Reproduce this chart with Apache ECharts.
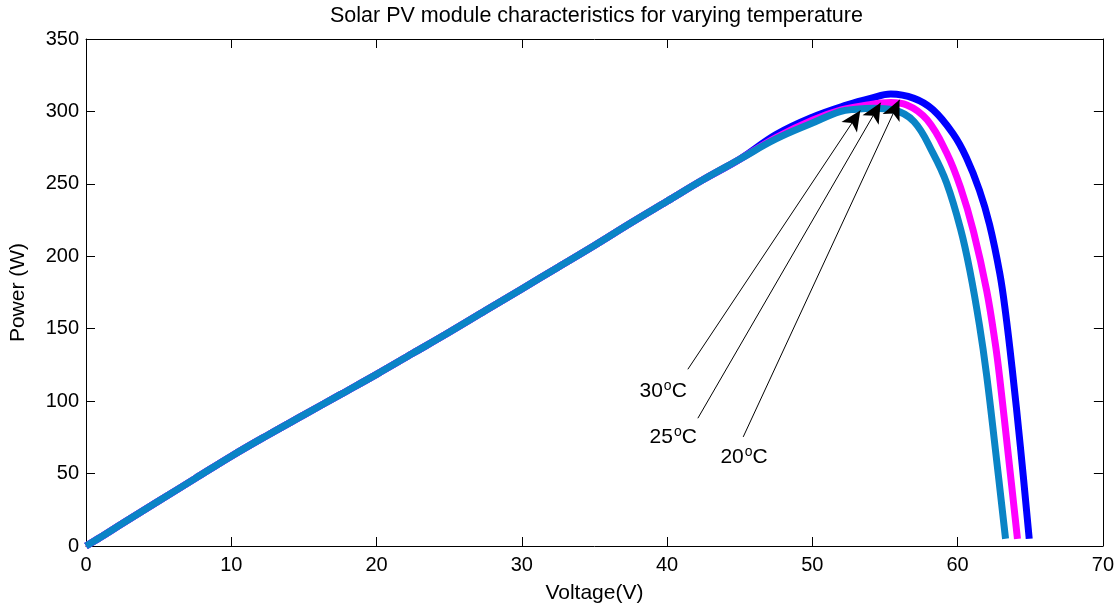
<!DOCTYPE html>
<html>
<head>
<meta charset="utf-8">
<script src="https://cdn.jsdelivr.net/npm/echarts@6/dist/echarts.min.js"></script>
<style>
html,body{margin:0;padding:0;background:#fff;}
#chart{width:1117px;height:609px;}
</style>
</head>
<body>
<div id="chart"></div>
<script>
// ---- data ----
const chartTitle = 'Solar PV module characteristics for varying temperature';
const xAxisName = 'Voltage(V)';
const yAxisName = 'Power (W)';

const rise_V = [0, 1, 2.5, 5, 7.5, 10, 12.5, 15, 17.5, 20, 22.5, 25, 27.5, 30, 32.5, 35, 37.5, 40, 42.5, 45];
const rise_P = [0, 6, 15.5, 31, 46.5, 62, 76.5, 90.5, 104.5, 118.5, 133, 147.5, 162.5, 177.5, 192.5, 207.5, 223, 238, 253, 267];

const volt30 = [47.5, 50, 51.9, 53, 54.2, 55.6, 57.0, 58.3, 59.25, 60.2, 60.85, 61.5, 62.0, 62.6, 63.3];
const power30 = [281, 292, 299.9, 301.5, 302.2, 301, 293, 271.3, 250.4, 219, 189.8, 152.7, 117.7, 66.7, 5];

const volt25 = [47.5, 50, 52, 53.5, 55.4, 56.5, 57.9, 59.25, 60.2, 61.1, 62.0, 62.6, 62.9, 63.5, 64.12];
const power25 = [282, 294, 301, 304, 306.1, 304.5, 294.2, 271.3, 247.5, 216.9, 176.4, 139.2, 115.8, 61.8, 5];

const volt20 = [47.5, 50, 52.4, 54, 55.4, 57.0, 58.3, 59.7, 60.6, 61.5, 62.2, 62.9, 63.3, 63.75, 64.32, 64.93];
const power20 = [284, 296, 304.5, 309, 312, 309, 301.2, 284.4, 268.2, 245.7, 221.9, 188.3, 161.1, 122.9, 68.7, 5];

const labelTemps = ['30', '25', '20'];
const labelVolt = [39.73, 40.42, 45.3];
const labelPower = [106.8, 75.1, 61.3];
const arrowTailV = [41.43, 42.12, 45.24];
const arrowTailP = [122, 88.2, 75.3];
const arrowHeadV = [53.3, 54.7, 56.0];
const arrowHeadP = [300.6, 306, 308];

const xTicks = [0, 70, 10];
const yTicks = [0, 350, 50];

// ---- build ----
function zip(vs, ps) { return vs.map((v, i) => [v, ps[i]]); }
const d20 = zip(rise_V, rise_P).concat(zip(volt20, power20));
const d25 = zip(rise_V, rise_P).concat(zip(volt25, power25));
const d30 = zip(rise_V, rise_P).concat(zip(volt30, power30));

const FONT = 'Liberation Sans, Arial, sans-serif';
const chart = echarts.init(document.getElementById('chart'), null, {renderer: 'canvas'});

const axisCommon = {
  axisLine: {show: true, onZero: false, lineStyle: {color: '#000', width: 1}},
  axisTick: {show: true, inside: true, length: 9, lineStyle: {color: '#000'}},
  splitLine: {show: false}
};

const arrowData = arrowTailV.map((v, i) => [
  {coord: [v, arrowTailP[i]], symbol: 'none'},
  {coord: [arrowHeadV[i], arrowHeadP[i]], symbol: 'arrow', symbolSize: [14, 20]}
]);

const labelData = labelTemps.map((t, i) => ({value: [labelVolt[i], labelPower[i]], name: t}));

const option = {
  backgroundColor: '#fff',
  animation: false,
  title: {
    text: chartTitle, left: 325, top: 0,
    textStyle: {fontFamily: FONT, fontSize: 21.5, fontWeight: 'normal', color: '#000'}
  },
  grid: {left: 84, right: 14, top: 39, bottom: 62, containLabel: false, show: false},
  xAxis: [
    Object.assign({}, axisCommon, {
      type: 'value', position: 'bottom', min: xTicks[0], max: xTicks[1], interval: xTicks[2],
      name: xAxisName, nameLocation: 'middle', nameGap: 37,
      nameTextStyle: {fontFamily: FONT, fontSize: 21, color: '#000'},
      axisLabel: {fontFamily: FONT, fontSize: 20, color: '#000', margin: 9}
    }),
    Object.assign({}, axisCommon, {
      type: 'value', position: 'top', min: xTicks[0], max: xTicks[1], interval: xTicks[2],
      axisLabel: {show: false}
    })
  ],
  yAxis: [
    Object.assign({}, axisCommon, {
      type: 'value', position: 'left', min: yTicks[0], max: yTicks[1], interval: yTicks[2],
      name: yAxisName, nameLocation: 'middle', nameGap: 57,
      nameTextStyle: {fontFamily: FONT, fontSize: 21, color: '#000'},
      axisLabel: {fontFamily: FONT, fontSize: 20, color: '#000', margin: 7}
    }),
    Object.assign({}, axisCommon, {
      type: 'value', position: 'right', min: yTicks[0], max: yTicks[1], interval: yTicks[2],
      axisLabel: {show: false}
    })
  ],
  series: [
    {type: 'line', name: '20°C', data: d20, showSymbol: false, symbol: 'none', smooth: 0.4,
     lineStyle: {color: '#0000FF', width: 7, cap: 'butt', join: 'round'}, z: 2},
    {type: 'line', name: '25°C', data: d25, showSymbol: false, symbol: 'none', smooth: 0.4,
     lineStyle: {color: '#FF00FF', width: 7, cap: 'butt', join: 'round'}, z: 3},
    {type: 'line', name: '30°C', data: d30, showSymbol: false, symbol: 'none', smooth: 0.4,
     lineStyle: {color: '#0A84C6', width: 7, cap: 'butt', join: 'round'}, z: 4},
    {type: 'line', name: 'arrows', data: [], z: 5,
     markLine: {
       silent: true, animation: false,
       lineStyle: {color: '#000', width: 1, type: 'solid'},
       itemStyle: {color: '#000'},
       label: {show: false},
       data: arrowData
     }},
    {type: 'scatter', name: 'labels', data: labelData, symbolSize: 0, z: 6, silent: true,
     itemStyle: {color: '#000', opacity: 1},
     label: {
       show: true, position: 'inside', color: '#000', textBorderWidth: 0, textBorderColor: 'transparent',
       formatter: p => '{n|' + p.name + '}{s|o}{n|C}',
       rich: {
         n: {fontFamily: FONT, fontSize: 21, color: '#000', lineHeight: 24, textBorderWidth: 0},
         s: {fontFamily: FONT, fontSize: 14, color: '#000', lineHeight: 12, verticalAlign: 'top', padding: [0, 0, 0, 1], textBorderWidth: 0}
       }
     }}
  ]
};
chart.setOption(option);
</script>
</body>
</html>
